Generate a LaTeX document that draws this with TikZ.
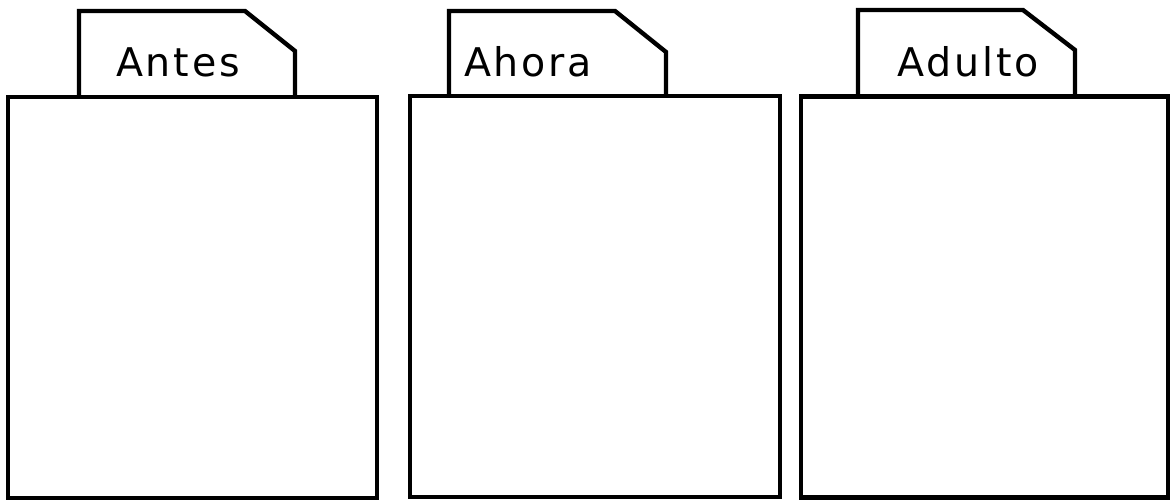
\documentclass[tikz,border=0pt]{standalone}
\usepackage{fontspec}
\newfontfamily\tabfont[LetterSpace=7]{DejaVu Sans}
\usepackage{tikz}
\usetikzlibrary{positioning}
\tikzset{
    % Panel style
    panelnode/.style={
        draw=black,
        fill=white,
        line width=2.5pt,
        inner sep=0pt,
        minimum width=7.38cm,
        minimum height=8.02cm
    },
    % Tab outline style
    tabline/.style={
        draw=black,
        fill=white,
        line width=2.5pt,
        line join=miter
    },
    % Tab label style
    tablabel/.style={
        anchor=base,
        inner sep=0pt,
        font=\tabfont\fontsize{22.5}{26}\selectfont
    }
}
\begin{document}
\begin{tikzpicture}[x=0.02cm, y=-0.02cm]
    \useasboundingbox (0,0) rectangle (1172,500);
    % tabs
    \draw[tabline] (79,97) -- (79,11) -- (245,11) -- (295,51) -- (295,97);
    \draw[tabline] (449,96) -- (449,11) -- (615,11) -- (666,52) -- (666,96);
    \draw[tabline] (858,96) -- (858,10) -- (1023,10) -- (1075,50) -- (1075,96);
    % panels
    \node[panelnode] (antes) at (192.5,297.5) {};
    \node[panelnode, minimum width=7.4cm] (ahora) at (595,296.5) {};
    \node[panelnode, minimum width=7.34cm] (adulto) at (984.5,297) {};
    % labels
    \node[tablabel] (antestab) at (178,77) {Antes};
    \node[tablabel] (ahoratab) at (528,77) {Ahora};
    \node[tablabel] (adultotab) at (968,76) {Adulto};
\end{tikzpicture}
\end{document}
